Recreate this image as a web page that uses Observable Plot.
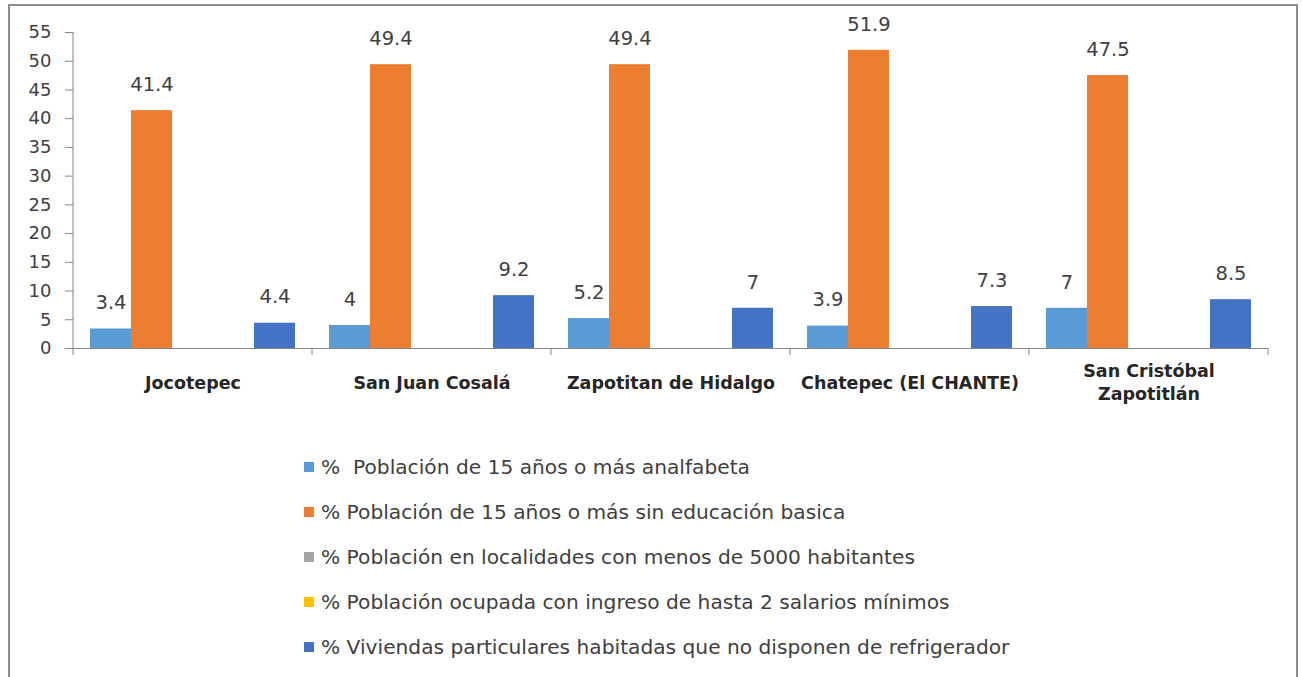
<!DOCTYPE html>
<html><head><meta charset="utf-8">
<script src="https://cdn.jsdelivr.net/npm/d3@7"></script>
<script src="https://cdn.jsdelivr.net/npm/@observablehq/plot@0.6"></script>
<style>
body{margin:0;background:#fff;}
#frame{position:absolute;left:8px;top:4px;width:1286px;height:690px;border:2px solid #8c8c8c;overflow:hidden;}
#chart{position:absolute;left:0;top:0;}
#legend{position:absolute;left:294px;top:438px;font-family:"DejaVu Sans",sans-serif;font-size:20.2px;color:#404040;}
.item{height:45.1px;display:flex;align-items:center;white-space:pre;}
.sw{width:10px;height:10px;margin-right:7px;flex:none;}
</style></head><body>
<div id="frame"><div id="chart"></div><div id="legend"></div></div>
<script>
const categories = ["Jocotepec", "San Juan Cosalá", "Zapotitan de Hidalgo", "Chatepec (El CHANTE)", "San Cristóbal\nZapotitlán"];
const seriesNames = [
  "%  Población de 15 años o más analfabeta",
  "% Población de 15 años o más sin educación basica",
  "% Población en localidades con menos de 5000 habitantes",
  "% Población ocupada con ingreso de hasta 2 salarios mínimos",
  "% Viviendas particulares habitadas que no disponen de refrigerador"
];
const analfabeta   = [3.4, 4, 5.2, 3.9, 7];
const sinEducacion = [41.4, 49.4, 49.4, 51.9, 47.5];
const localidades  = [null, null, null, null, null];
const ingreso      = [null, null, null, null, null];
const refrigerador = [4.4, 9.2, 7, 7.3, 8.5];
const colors = ["#5B9BD5", "#ED7D31", "#A5A5A5", "#FFC000", "#4472C4"];
const yTicks = [0, 5, 10, 15, 20, 25, 30, 35, 40, 45, 50, 55];

const seriesValues = [analfabeta, sinEducacion, localidades, ingreso, refrigerador];
const data = [];
categories.forEach((c, i) => seriesValues.forEach((vals, s) => {
  if (vals[i] != null) data.push({cat: c, series: seriesNames[s], value: vals[i]});
}));

const axisColor = "#868686";

const chart = Plot.plot({
  width: 1286, height: 410,
  marginLeft: 61, marginRight: 26, marginTop: 26, marginBottom: 68,
  style: {background: "transparent"},
  fx: {domain: categories, padding: 0, axis: null, label: null},
  x: {domain: seriesNames, paddingInner: 0, paddingOuter: 0.37, axis: null},
  y: {domain: [0, 55], axis: null},
  color: {domain: seriesNames, range: colors},
  marks: [
    Plot.barY(data, {fx: "cat", x: "series", y: "value", fill: "series"}),
    Plot.ruleY([0], {stroke: axisColor}),
    Plot.text(data, {fx: "cat", x: "series", y: "value", text: d => String(d.value),
      dy: -26, lineAnchor: "middle", fontSize: 19.5, fontFamily: "DejaVu Sans", fill: "#404040"}),
    Plot.axisY({ticks: yTicks, tickSize: 8, tickPadding: 14, fontSize: 18, fontFamily: "DejaVu Sans",
      color: "#404040", stroke: axisColor, label: null}),
    Plot.text(categories, {fx: d => d, frameAnchor: "bottom", text: d => d, dy: 33, lineAnchor: "middle",
      lineHeight: 1.3, fontSize: 17.5, fontWeight: "bold", fontFamily: "DejaVu Sans", fill: "#262626"})
  ]
});
document.getElementById("chart").appendChild(chart);

// axis line and category boundary ticks, positioned from the library's scales
const fx = chart.scale("fx"), y = chart.scale("y");
const svg = d3.select(chart);
const left = fx.apply(categories[0]);
const bw = fx.bandwidth;
const g = svg.append("g");
g.append("line").attr("x1", left).attr("x2", left).attr("y1", y.apply(55)).attr("y2", y.apply(0))
  .attr("stroke", axisColor);
const edges = categories.map(c => fx.apply(c)).concat([fx.apply(categories[categories.length - 1]) + bw]);
edges.forEach(ex => {
  g.append("line").attr("x1", ex).attr("x2", ex).attr("y1", y.apply(0)).attr("y2", y.apply(0) + 7)
    .attr("stroke", axisColor);
});

const legend = d3.select("#legend");
seriesNames.forEach((s, i) => {
  const it = legend.append("div").attr("class", "item");
  it.append("div").attr("class", "sw").style("background", colors[i]);
  it.append("span").text(s);
});
</script>
</body></html>
